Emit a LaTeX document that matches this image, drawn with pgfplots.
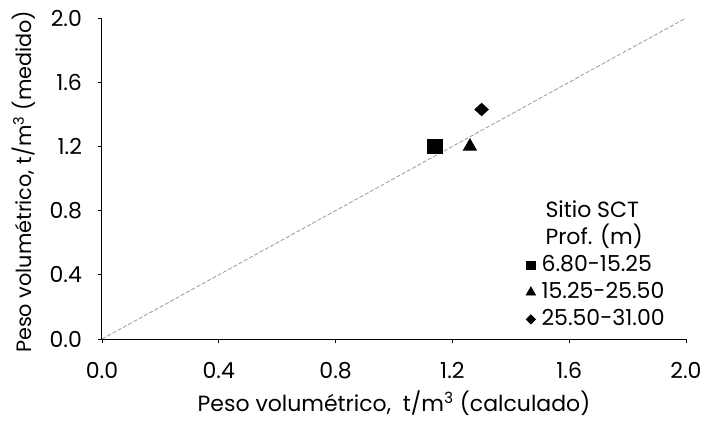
\documentclass[border=0pt]{standalone}
\usepackage{pgfplots}
\pgfplotsset{compat=1.18}
\usepackage{fontspec}
\setmainfont{Poppins}

\begin{document}
\begin{tikzpicture}
\path[use as bounding box] (-51pt,-40.5pt) rectangle (302.5pt,169.5pt);
\begin{axis}[
    scale only axis, width=292pt, height=160.5pt,
    xmin=0, xmax=2, ymin=0, ymax=2,
    axis x line*=bottom, axis y line*=left,
    axis line style={line width=0.5pt},
    xtick={0,0.4,0.8,1.2,1.6,2.0},
    ytick={0,0.4,0.8,1.2,1.6,2.0},
    tick align=outside, major tick length=2pt,
    tick style={line width=0.4pt, black},
    /pgf/number format/.cd, fixed, fixed zerofill, precision=1, assume math mode=true,
    /pgfplots/.cd,
    tick label style={font=\fontsize{11}{13}\selectfont},
    xticklabel style={yshift=-6pt},
    yticklabel style={xshift=-4.5pt},
    label style={font=\fontsize{11}{13}\selectfont},
    xlabel={Peso volumétrico,\ \ t/m\textsuperscript{3} (calculado)},
    ylabel={Peso volumétrico, t/m\textsuperscript{3} (medido)},
    xlabel style={at={(axis description cs:0.5,-0.2)}, anchor=center},
    ylabel style={at={(axis description cs:-0.135,0.49)}, anchor=center,
        font=\fontsize{10.4}{12}\selectfont},
    legend image code/.code={\draw[#1] plot coordinates {(0.12cm,0cm)};},
    legend cell align=left,
    legend style={draw=none, fill=none, inner sep=0pt, column sep=3pt,
        row sep=3.5pt, font=\fontsize{11}{13}\selectfont,
        nodes={inner sep=0pt, text height=8pt, text depth=2pt},
        at={(rel axis cs:0.722,0.43)}, anchor=north west},
]
% linea 1:1
\addplot[gray!80, line width=0.4pt, dash pattern=on 2pt off 1pt, forget plot]
    coordinates {(0,0) (2,2)};
% puntos medidos
\addplot[only marks, mark=square*, mark size=3.6pt, black, forget plot]
    coordinates {(1.14,1.20)};
\addplot[only marks, mark=triangle*, mark size=3.75pt, black, forget plot]
    coordinates {(1.26,1.20)};
\addplot[only marks, mark=diamond*, mark size=3.1pt, mark options={xscale=1.44}, black, forget plot]
    coordinates {(1.30,1.43)};

\addlegendimage{empty legend}
\addlegendentry{\hspace{2pt}Sitio SCT}
\addlegendimage{empty legend}
\addlegendentry{\hspace{2pt}Prof. (m)}
\addlegendimage{mark=square*, mark size=2.1pt, black}
\addlegendentry{6.80-15.25}
\addlegendimage{mark=triangle*, mark size=2.7pt, black}
\addlegendentry{15.25-25.50}
\addlegendimage{mark=diamond*, mark size=2.3pt, mark options={xscale=1.3}, black}
\addlegendentry{25.50-31.00}
\end{axis}
\end{tikzpicture}
\end{document}
